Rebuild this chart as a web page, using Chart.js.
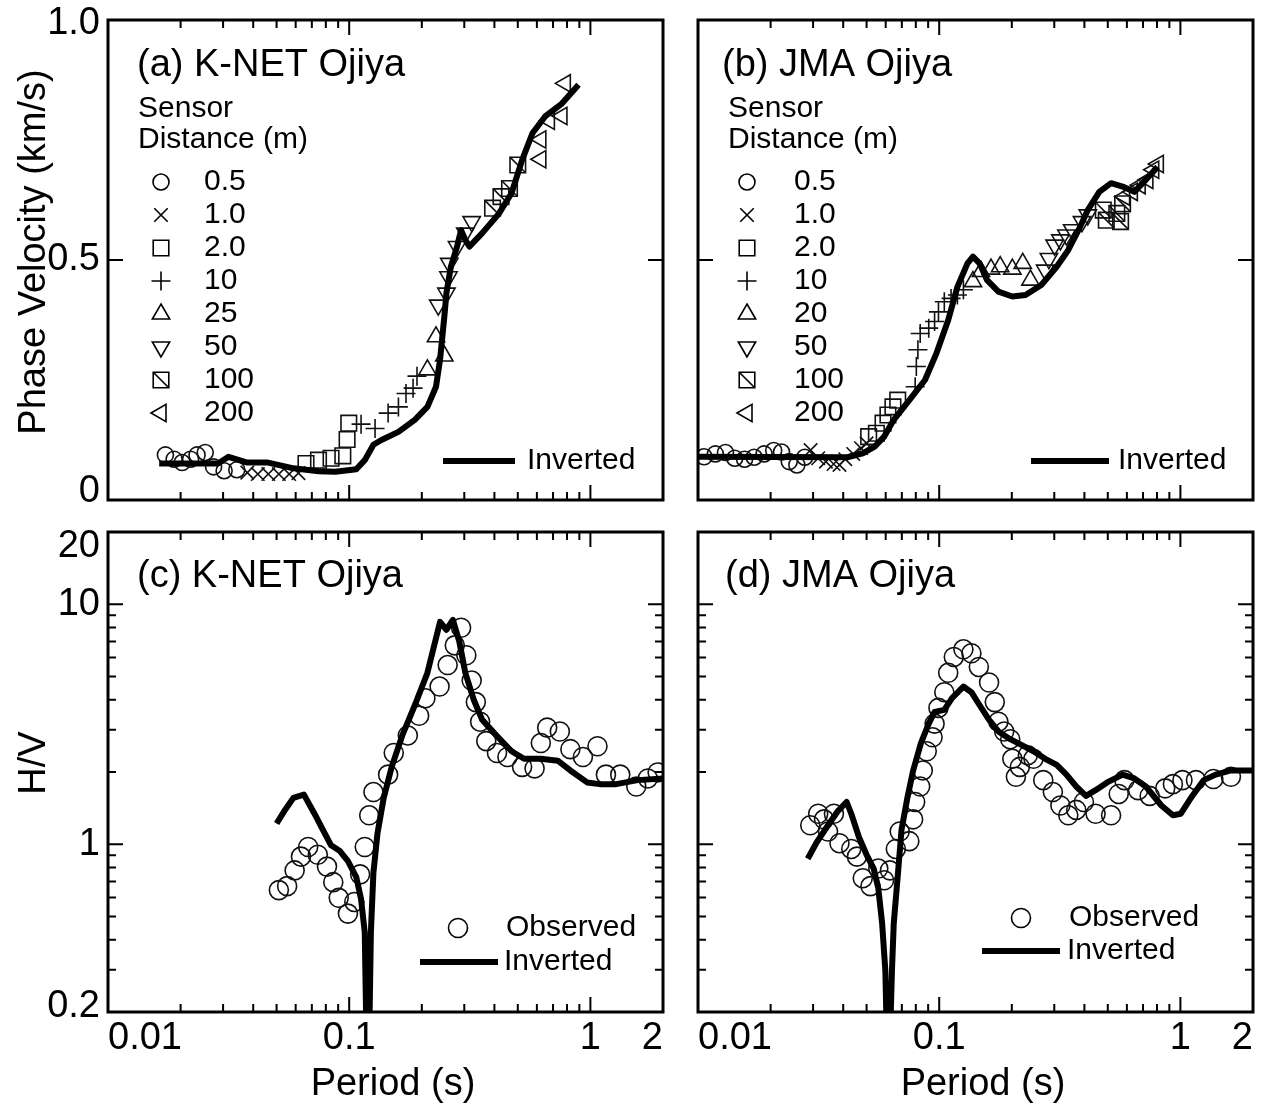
<!DOCTYPE html>
<html>
<head>
<meta charset="utf-8">
<script src="https://cdn.jsdelivr.net/npm/chart.js@4.4.1/dist/chart.umd.min.js"></script>
<style>
  html, body { margin: 0; padding: 0; background: #fff; }
  #wrap { position: relative; width: 1269px; height: 1113px; }
  #wrap canvas { position: absolute; left: 0; top: 0; }
</style>
</head>
<body>
<div id="wrap">
  <canvas id="cA" width="1269" height="1113"></canvas>
  <canvas id="cB" width="1269" height="1113"></canvas>
  <canvas id="cC" width="1269" height="1113"></canvas>
  <canvas id="cD" width="1269" height="1113"></canvas>
</div>
<script>
// ---------------- axes ----------------
const xTickVals = [0.01, 0.1, 1, 2];
const xTickText = ['0.01', '0.1', '1', '2'];
const xMajor = [0.1, 1];
const xMinor = [0.02, 0.03, 0.04, 0.05, 0.06, 0.07, 0.08, 0.09, 0.2, 0.3, 0.4, 0.5, 0.6, 0.7, 0.8, 0.9];

const vTickVals = [0, 0.5, 1];
const vTickText = ['0', '0.5', '1.0'];
const vMajor = [0.5];

const hvTickVals = [0.2, 1, 10, 20];
const hvTickText = ['0.2', '1', '10', '20'];
const hvMajor = [1, 10];
const hvMinor = [0.3, 0.4, 0.5, 0.6, 0.7, 0.8, 0.9, 2, 3, 4, 5, 6, 7, 8, 9];

// ---------------- (a) K-NET Ojiya : phase velocity ----------------
const aInvT = [0.0163, 0.0286, 0.0316, 0.0378, 0.0461, 0.0588, 0.0746, 0.0877, 0.107, 0.116, 0.126, 0.136, 0.160, 0.187, 0.211, 0.229, 0.238, 0.248, 0.253, 0.264, 0.280, 0.291, 0.303, 0.315, 0.356, 0.418, 0.471, 0.521, 0.575, 0.649, 0.762, 0.893];
const aInvV = [0.076, 0.076, 0.090, 0.078, 0.078, 0.066, 0.060, 0.059, 0.064, 0.083, 0.115, 0.125, 0.142, 0.167, 0.194, 0.236, 0.292, 0.382, 0.431, 0.486, 0.528, 0.562, 0.542, 0.528, 0.556, 0.597, 0.639, 0.708, 0.764, 0.799, 0.826, 0.865];

const aT_05 = [0.0173, 0.0188, 0.0203, 0.0220, 0.0234, 0.0253, 0.0274, 0.0303, 0.0342];
const aV_05 = [0.094, 0.085, 0.078, 0.085, 0.094, 0.099, 0.069, 0.061, 0.063];
const aT_1 = [0.0378, 0.0418, 0.0462, 0.0511, 0.0564, 0.0616];
const aV_1 = [0.057, 0.054, 0.054, 0.054, 0.054, 0.056];
const aT_2 = [0.0662, 0.0746, 0.0841, 0.0941, 0.0980, 0.0996];
const aV_2 = [0.076, 0.083, 0.087, 0.092, 0.126, 0.160];
const aT_10 = [0.112, 0.128, 0.145, 0.160, 0.172, 0.184, 0.191];
const aV_10 = [0.158, 0.149, 0.181, 0.194, 0.222, 0.233, 0.258];
const aT_25 = [0.211, 0.229, 0.248];
const aV_25 = [0.271, 0.340, 0.300];
const aT_50 = [0.234, 0.253, 0.258, 0.260, 0.280, 0.303, 0.322];
const aV_50 = [0.406, 0.431, 0.465, 0.493, 0.528, 0.556, 0.580];
const aT_100 = [0.393, 0.426, 0.462, 0.500];
const aV_100 = [0.608, 0.632, 0.649, 0.698];
const aT_200 = [0.623, 0.623, 0.676, 0.762, 0.787];
const aV_200 = [0.710, 0.751, 0.790, 0.800, 0.868];
const aSensorText = ['0.5', '1.0', '2.0', '10', '25', '50', '100', '200'];

// ---------------- (b) JMA Ojiya : phase velocity ----------------
const bInvT = [0.0100, 0.0416, 0.0482, 0.054, 0.0591, 0.0648, 0.0752, 0.0873, 0.0975, 0.109, 0.119, 0.131, 0.138, 0.147, 0.158, 0.176, 0.201, 0.228, 0.265, 0.307, 0.343, 0.384, 0.413, 0.461, 0.516, 0.576, 0.644, 0.719, 0.804];
const bInvV = [0.090, 0.089, 0.097, 0.111, 0.132, 0.167, 0.208, 0.250, 0.306, 0.375, 0.444, 0.493, 0.507, 0.493, 0.458, 0.434, 0.424, 0.427, 0.448, 0.486, 0.521, 0.569, 0.604, 0.642, 0.660, 0.653, 0.642, 0.667, 0.694];

const bT_05 = [0.0106, 0.0118, 0.0130, 0.0142, 0.0156, 0.0171, 0.0188, 0.0206, 0.0222, 0.0239, 0.0257, 0.0277];
const bV_05 = [0.090, 0.096, 0.099, 0.087, 0.085, 0.089, 0.096, 0.103, 0.100, 0.080, 0.073, 0.089];
const bT_1 = [0.0293, 0.0315, 0.0339, 0.0365, 0.0386, 0.0408, 0.0440, 0.0474, 0.0500];
const bV_1 = [0.104, 0.087, 0.080, 0.075, 0.073, 0.085, 0.096, 0.108, 0.118];
const bT_2 = [0.0510, 0.0549, 0.0585, 0.0613, 0.0643, 0.0673];
const bV_2 = [0.132, 0.139, 0.160, 0.177, 0.194, 0.208];
const bT_10 = [0.0795, 0.0804, 0.0816, 0.0834, 0.0905, 0.0957, 0.0993, 0.105, 0.112, 0.119, 0.126];
const bV_10 = [0.236, 0.278, 0.313, 0.347, 0.358, 0.372, 0.392, 0.413, 0.420, 0.427, 0.438];
const bT_20 = [0.138, 0.149, 0.164, 0.179, 0.201, 0.222, 0.239];
const bV_20 = [0.455, 0.476, 0.481, 0.486, 0.481, 0.493, 0.458];
const bT_50 = [0.275, 0.285, 0.301, 0.318, 0.337, 0.356, 0.391, 0.413];
const bV_50 = [0.479, 0.503, 0.531, 0.542, 0.552, 0.563, 0.580, 0.594];
const bT_100 = [0.479, 0.493, 0.545, 0.565, 0.576];
const bV_100 = [0.604, 0.583, 0.597, 0.580, 0.617];
const bT_200 = [0.587, 0.632, 0.681, 0.733, 0.775, 0.810];
const bV_200 = [0.632, 0.642, 0.656, 0.667, 0.688, 0.700];
const bSensorText = ['0.5', '1.0', '2.0', '10', '20', '50', '100', '200'];

// ---------------- (c) K-NET Ojiya : H/V ----------------
const cInvT = [0.050, 0.0542, 0.0587, 0.0649, 0.0718, 0.0777, 0.0841, 0.0912, 0.0988, 0.107, 0.112, 0.116, 0.118, 0.121, 0.123, 0.126, 0.131, 0.139, 0.150, 0.166, 0.188, 0.211, 0.238, 0.253, 0.269, 0.286, 0.303, 0.329, 0.356, 0.401, 0.471, 0.531, 0.623, 0.732, 0.826, 0.969, 1.093, 1.28, 1.57, 2.0];
const cInvV = [1.22, 1.39, 1.56, 1.61, 1.34, 1.15, 0.99, 0.94, 0.85, 0.73, 0.59, 0.43, 0.15, 0.15, 0.43, 0.76, 1.11, 1.56, 2.10, 2.84, 3.84, 5.18, 8.44, 7.83, 8.61, 7.0, 5.18, 3.98, 3.30, 2.89, 2.44, 2.27, 2.27, 2.23, 2.03, 1.81, 1.78, 1.78, 1.85, 1.88];
const cObsT = [0.0511, 0.0553, 0.0594, 0.0631, 0.0676, 0.0741, 0.0809, 0.0859, 0.0905, 0.0988, 0.105, 0.111, 0.116, 0.121, 0.126, 0.145, 0.153, 0.175, 0.195, 0.207, 0.237, 0.256, 0.274, 0.291, 0.306, 0.322, 0.335, 0.349, 0.370, 0.410, 0.453, 0.521, 0.587, 0.623, 0.662, 0.747, 0.826, 0.931, 1.07, 1.16, 1.33, 1.55, 1.73, 1.90];
const cObsV = [0.644, 0.669, 0.778, 0.888, 0.974, 0.904, 0.807, 0.695, 0.598, 0.514, 0.575, 0.749, 0.974, 1.32, 1.65, 1.95, 2.40, 2.84, 3.43, 4.06, 4.54, 5.58, 6.74, 7.98, 6.13, 4.81, 3.91, 3.24, 2.69, 2.40, 2.31, 2.10, 2.07, 2.64, 3.06, 2.95, 2.49, 2.31, 2.56, 1.95, 1.95, 1.74, 1.88, 1.99];

// ---------------- (d) JMA Ojiya : H/V ----------------
const dInvT = [0.0285, 0.0309, 0.0346, 0.0379, 0.0413, 0.0432, 0.0465, 0.0500, 0.0535, 0.0559, 0.0580, 0.0598, 0.0607, 0.0625, 0.0637, 0.0648, 0.0673, 0.0698, 0.0738, 0.0780, 0.0840, 0.0905, 0.0957, 0.105, 0.113, 0.126, 0.136, 0.146, 0.161, 0.176, 0.197, 0.220, 0.246, 0.275, 0.307, 0.337, 0.370, 0.406, 0.445, 0.497, 0.576, 0.644, 0.719, 0.834, 0.931, 1.004, 1.12, 1.25, 1.40, 1.62, 2.0];
const dInvV = [0.870, 1.01, 1.20, 1.37, 1.50, 1.34, 1.07, 0.904, 0.792, 0.656, 0.468, 0.298, 0.15, 0.15, 0.298, 0.468, 0.735, 1.15, 1.56, 2.03, 2.64, 3.18, 3.56, 3.63, 4.06, 4.54, 4.30, 3.84, 3.30, 2.95, 2.74, 2.59, 2.44, 2.27, 2.14, 1.95, 1.74, 1.59, 1.68, 1.81, 1.95, 1.88, 1.74, 1.45, 1.32, 1.34, 1.59, 1.85, 1.95, 2.03, 2.03];
const dObsT = [0.0292, 0.0315, 0.0333, 0.0346, 0.0366, 0.0386, 0.0432, 0.0456, 0.0482, 0.0519, 0.0559, 0.0591, 0.0625, 0.0661, 0.0686, 0.0752, 0.0780, 0.0795, 0.0834, 0.0855, 0.0888, 0.0939, 0.0957, 0.0993, 0.105, 0.109, 0.115, 0.126, 0.136, 0.146, 0.161, 0.170, 0.176, 0.186, 0.197, 0.201, 0.208, 0.216, 0.233, 0.246, 0.270, 0.296, 0.318, 0.343, 0.370, 0.398, 0.445, 0.516, 0.555, 0.586, 0.668, 0.746, 0.865, 0.931, 1.02, 1.16, 1.37, 1.62];
const dObsV = [1.20, 1.34, 1.27, 1.13, 1.34, 1.01, 0.956, 0.888, 0.722, 0.669, 0.792, 0.708, 0.778, 0.956, 1.13, 1.03, 1.27, 1.50, 1.74, 2.03, 2.44, 2.79, 3.18, 3.70, 4.30, 5.18, 6.03, 6.49, 6.25, 5.48, 4.72, 3.91, 3.24, 2.95, 2.74, 2.27, 1.91, 2.10, 2.35, 2.27, 1.85, 1.65, 1.45, 1.32, 1.39, 1.50, 1.34, 1.32, 1.62, 1.85, 1.68, 1.59, 1.71, 1.78, 1.85, 1.85, 1.87, 1.91];

// ---------------- drawing helpers ----------------
const FONT = "'Liberation Sans', Arial, Helvetica, sans-serif";
const INK = '#000';
const W = 1269, H = 1113;
const MARKS = ['circle', 'crossRot', 'rect', 'cross', 'triUp', 'triDown', 'rectDiag', 'triLeft'];
const MARK_R = { circle: 8, crossRot: 9.5, rect: 11, cross: 9.5, triUp: 10, triDown: 10, rectDiag: 11, triLeft: 10 };

function pts(ts, vs) {
    return ts.map((t, i) => ({ x: t, y: vs[i] }));
}

function lineSet(ts, vs) {
    return {
        data: pts(ts, vs), showLine: true, borderColor: INK, borderWidth: 6,
        pointRadius: 0, tension: 0, borderJoinStyle: 'round', borderCapStyle: 'butt'
    };
}

function styleOf(kind) {
    if (kind === 'triUp') return { pointStyle: 'triangle', pointRotation: 0 };
    if (kind === 'triDown') return { pointStyle: 'triangle', pointRotation: 180 };
    if (kind === 'triLeft') return { pointStyle: 'triangle', pointRotation: -90 };
    return { pointStyle: kind, pointRotation: 0 };
}

function markSets(ts, vs, kind, r) {
    const base = { data: pts(ts, vs), showLine: false, pointRadius: r, pointBorderWidth: 1.6,
        pointBorderColor: '#111', pointBackgroundColor: 'rgba(0,0,0,0)' };
    if (kind === 'rectDiag') {
        // square with a diagonal: a rect point plus a 45 degree line point
        return [
            Object.assign({}, base, { pointStyle: 'rect' }),
            Object.assign({}, base, { data: pts(ts, vs), pointStyle: 'line', pointRotation: 45 })
        ];
    }
    return [Object.assign({}, base, styleOf(kind))];
}

// legend symbols, same geometry as chart.js point styles
function drawMarker(ctx, kind, x, y, r) {
    ctx.beginPath();
    const s = r * Math.SQRT1_2;
    if (kind === 'circle') {
        ctx.arc(x, y, r, 0, Math.PI * 2);
    } else if (kind === 'crossRot') {
        ctx.moveTo(x - s, y - s); ctx.lineTo(x + s, y + s);
        ctx.moveTo(x - s, y + s); ctx.lineTo(x + s, y - s);
    } else if (kind === 'cross') {
        ctx.moveTo(x - r, y); ctx.lineTo(x + r, y);
        ctx.moveTo(x, y - r); ctx.lineTo(x, y + r);
    } else if (kind === 'rect' || kind === 'rectDiag') {
        ctx.rect(x - s, y - s, 2 * s, 2 * s);
        if (kind === 'rectDiag') { ctx.moveTo(x - s, y - s); ctx.lineTo(x + s, y + s); }
    } else {
        let rad = { triUp: 0, triDown: Math.PI, triLeft: -Math.PI / 2 }[kind];
        ctx.moveTo(x + Math.sin(rad) * r, y - Math.cos(rad) * r);
        for (let k = 0; k < 2; k++) {
            rad += 2 * Math.PI / 3;
            ctx.lineTo(x + Math.sin(rad) * r, y - Math.cos(rad) * r);
        }
        ctx.closePath();
    }
    ctx.stroke();
}

// frame, inward ticks, y tick labels and all the panel texts
function decoPlugin(cfg) {
    return {
        id: 'deco',
        afterDraw(chart) {
            const ctx = chart.ctx, a = chart.chartArea;
            const xs = chart.scales.x, ys = chart.scales.y;
            ctx.save();
            ctx.strokeStyle = INK;
            ctx.fillStyle = INK;
            ctx.lineWidth = 2;
            ctx.beginPath();
            const xt = (v, len) => {
                const p = xs.getPixelForValue(v);
                ctx.moveTo(p, a.bottom); ctx.lineTo(p, a.bottom - len);
                ctx.moveTo(p, a.top); ctx.lineTo(p, a.top + len);
            };
            const yt = (v, len) => {
                const p = ys.getPixelForValue(v);
                ctx.moveTo(a.left, p); ctx.lineTo(a.left + len, p);
                ctx.moveTo(a.right, p); ctx.lineTo(a.right - len, p);
            };
            xMajor.forEach(v => xt(v, 15));
            xMinor.forEach(v => xt(v, 8));
            cfg.yMajor.forEach(v => yt(v, 15));
            (cfg.yMinor || []).forEach(v => yt(v, 8));
            ctx.stroke();

            ctx.lineWidth = 3;
            ctx.strokeRect(a.left, a.top, a.right - a.left, a.bottom - a.top);

            ctx.textBaseline = 'middle';
            ctx.font = '38px ' + FONT;
            // y tick labels, end ones nudged inside the frame
            if (cfg.yLabels) {
                ctx.textAlign = 'right';
                cfg.yLabels.vals.forEach((v, i) => {
                    ctx.fillText(cfg.yLabels.text[i], a.left - 8, ys.getPixelForValue(v) + cfg.yLabels.nudge[i]);
                });
            }

            ctx.textAlign = 'left';
            ctx.fillText(cfg.title[0], cfg.title[1], cfg.title[2]);

            ctx.font = '30px ' + FONT;
            if (cfg.sensor) {
                const sn = cfg.sensor;
                ctx.fillText('Sensor', sn.x, 109);
                ctx.fillText('Distance (m)', sn.x, 140);
                ctx.lineWidth = 1.6;
                sn.labels.forEach((t, i) => {
                    const y = 182 + i * 33;
                    drawMarker(ctx, MARKS[i], sn.sx, y, MARK_R[MARKS[i]]);
                    ctx.fillText(t, sn.tx, y);
                });
            }
            if (cfg.obs) {
                ctx.lineWidth = 1.6;
                drawMarker(ctx, 'circle', cfg.obs[0], cfg.obs[1], 9.5);
                ctx.fillText('Observed', cfg.obs[2], cfg.obs[1]);
            }
            const iv = cfg.inv;
            ctx.lineWidth = 6;
            ctx.beginPath();
            ctx.moveTo(iv[0], iv[2]); ctx.lineTo(iv[1], iv[2]);
            ctx.stroke();
            ctx.fillText('Inverted', iv[3], iv[2]);

            ctx.font = '38px ' + FONT;
            ctx.textAlign = 'center';
            (cfg.axisTitles || []).forEach(t => {
                ctx.save();
                ctx.translate(t[1], t[2]);
                ctx.rotate(t[3] || 0);
                ctx.fillText(t[0], 0, 0);
                ctx.restore();
            });
            ctx.restore();
        }
    };
}

function makePanel(id, area, log, showX, datasets, cfg) {
    const yVals = log ? hvTickVals : vTickVals;
    new Chart(document.getElementById(id), {
        type: 'scatter',
        data: { datasets: datasets },
        options: {
            responsive: false,
            animation: false,
            events: [],
            layout: { padding: { left: 0, top: area.top, right: W - area.right, bottom: 0 } },
            plugins: { legend: { display: false }, tooltip: { enabled: false } },
            scales: {
                x: {
                    type: 'logarithmic', min: 0.01, max: 2, position: 'bottom',
                    grid: { display: false, drawTicks: false }, border: { display: false },
                    afterBuildTicks: s => { s.ticks = xTickVals.map(v => ({ value: v })); },
                    afterFit: s => { s.height = H - area.bottom; },
                    ticks: { display: showX, autoSkip: false, maxRotation: 0, padding: 8, color: INK,
                        align: 'inner', font: { family: FONT, size: 38, lineHeight: 1 },
                        callback: (v, i) => xTickText[i] }
                },
                y: {
                    type: log ? 'logarithmic' : 'linear',
                    min: log ? 0.2 : 0, max: log ? 20 : 1, position: 'left',
                    grid: { display: false, drawTicks: false }, border: { display: false },
                    afterBuildTicks: s => { s.ticks = yVals.map(v => ({ value: v })); },
                    afterFit: s => { s.width = area.left; },
                    ticks: { display: false }
                }
            }
        },
        plugins: [decoPlugin(cfg)]
    });
}

function phaseSets(inv, groups) {
    let sets = [lineSet(inv[0], inv[1])];
    groups.forEach((g, i) => { sets = sets.concat(markSets(g[0], g[1], MARKS[i], MARK_R[MARKS[i]])); });
    return sets;
}

const vLabels = { vals: vTickVals, text: vTickText, nudge: [-8, 0, 4] };
const hvLabels = { vals: hvTickVals, text: hvTickText, nudge: [-5, 0, 0, 15] };

// ---------------- panels ----------------
makePanel('cA', { left: 108, top: 20, right: 663, bottom: 500 }, false, false,
    phaseSets([aInvT, aInvV], [[aT_05, aV_05], [aT_1, aV_1], [aT_2, aV_2], [aT_10, aV_10],
        [aT_25, aV_25], [aT_50, aV_50], [aT_100, aV_100], [aT_200, aV_200]]),
    {
        title: ['(a) K-NET Ojiya', 137, 66], yMajor: vMajor, yLabels: vLabels,
        sensor: { x: 138, sx: 161, tx: 204, labels: aSensorText },
        inv: [443, 515, 461, 527],
        axisTitles: [['Phase Velocity (km/s)', 35, 252, -Math.PI / 2]]
    });

makePanel('cB', { left: 698, top: 20, right: 1253, bottom: 500 }, false, false,
    phaseSets([bInvT, bInvV], [[bT_05, bV_05], [bT_1, bV_1], [bT_2, bV_2], [bT_10, bV_10],
        [bT_20, bV_20], [bT_50, bV_50], [bT_100, bV_100], [bT_200, bV_200]]),
    {
        title: ['(b) JMA Ojiya', 722, 66], yMajor: vMajor,
        sensor: { x: 728, sx: 747, tx: 794, labels: bSensorText },
        inv: [1031, 1109, 461, 1118]
    });

makePanel('cC', { left: 108, top: 532, right: 663, bottom: 1012 }, true, true,
    [lineSet(cInvT, cInvV)].concat(markSets(cObsT, cObsV, 'circle', 9.5)),
    {
        title: ['(c) K-NET Ojiya', 137, 577], yMajor: hvMajor, yMinor: hvMinor, yLabels: hvLabels,
        obs: [458, 928, 506],
        inv: [420, 498, 962, 504],
        axisTitles: [['H/V', 35, 763, -Math.PI / 2], ['Period (s)', 393, 1085, 0]]
    });

makePanel('cD', { left: 698, top: 532, right: 1253, bottom: 1012 }, true, true,
    [lineSet(dInvT, dInvV)].concat(markSets(dObsT, dObsV, 'circle', 9.5)),
    {
        title: ['(d) JMA Ojiya', 725, 577], yMajor: hvMajor, yMinor: hvMinor,
        obs: [1021, 918, 1069],
        inv: [982, 1060, 951, 1067],
        axisTitles: [['Period (s)', 983, 1085, 0]]
    });
</script>
</body>
</html>
